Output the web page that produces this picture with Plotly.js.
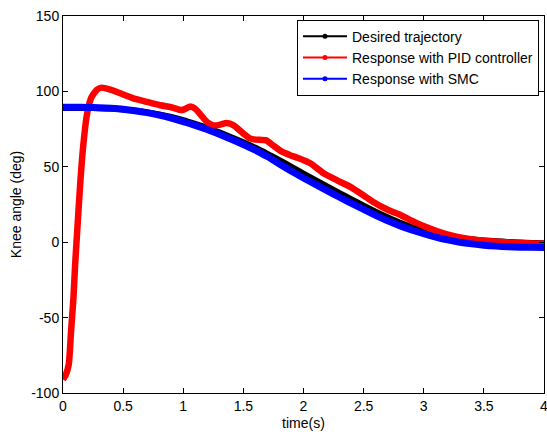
<!DOCTYPE html>
<html>
<head>
<meta charset="utf-8">
<script src="https://cdn.plot.ly/plotly-3.0.1.min.js"></script>
<style>html,body{margin:0;padding:0;background:#fff;}#chart{width:547px;height:434px;}</style>
</head>
<body>
<div id="chart"></div>
<script>
// Desired trajectory
const tDesired = [0,0.1,0.2,0.3,0.4,0.5,0.6,0.7,0.8,0.9,1.0,1.1,1.2,1.3,1.4,1.5,1.6,1.7,1.8,1.9,2.0,2.1,2.2,2.3,2.4,2.5,2.6,2.7,2.8,2.9,3.0,3.1,3.2,3.3,3.4,3.5,3.6,3.7,3.8,3.9,4.0];
const yDesired = [89,89,89,88.9,88.6,88,87.2,86.1,84.7,83,81,78.5,75.8,72.8,69.6,66.2,62.6,58.6,54.4,50,45.5,41.1,36.8,32.6,28.4,24.3,20.3,16.5,13,10,7.6,5.6,4,2.8,1.9,1.2,0.7,0.2,-0.2,-0.5,-0.7];
// Response with SMC
const tSMC = tDesired;
const ySMC = [89.5,89.5,89.4,89.2,88.8,88.2,87.2,85.9,84.3,82.3,80,77.5,74.7,71.6,68.3,64.8,61,56.8,51.8,47,42.6,38.3,34,29.8,25.7,21.7,17.8,14.2,11,8.1,5.6,3.4,1.5,0,-1.1,-2,-2.6,-3,-3.3,-3.4,-3.5];
// Response with PID controller
const tPID = [0,0.02,0.048,0.067,0.087,0.1,0.117,0.145,0.167,0.2,0.236,0.28,0.32,0.4,0.5,0.6,0.7,0.8,0.9,0.97,1.0,1.06,1.1,1.15,1.2,1.25,1.3,1.36,1.42,1.5,1.55,1.6,1.69,1.75,1.82,1.89,1.95,2.06,2.17,2.28,2.39,2.5,2.58,2.7,2.81,2.92,3.03,3.12,3.22,3.35,3.5,3.64,3.8,4.0];
const yPID = [-91,-88.5,-81,-59,-37,-16,6,41,63,85,96,101,102.5,101,98,95,93,91,89.5,87.8,87.8,90,88.5,84,79.5,77.5,77.8,79,77.5,72,69,68,67.5,64,60,57.7,56,52.2,45.5,41,36.7,31,26.7,21.5,17.9,13.5,9.7,7,4.6,2.5,1,0.2,-0.6,-1];

const seriesNames = ['Desired trajectory','Response with PID controller','Response with SMC'];
const colors = ['#000000','#ff0000','#0000ff'];

const traces = [
  {x:tDesired, y:yDesired, mode:'lines', line:{color:colors[0], width:6, shape:'spline', smoothing:0.6}, showlegend:false, hoverinfo:'skip'},
  {x:tPID, y:yPID, mode:'lines', line:{color:colors[1], width:6.5, shape:'spline', smoothing:0.5}, showlegend:false, hoverinfo:'skip'},
  {x:tSMC, y:ySMC, mode:'lines', line:{color:colors[2], width:7, shape:'spline', smoothing:0.6}, showlegend:false, hoverinfo:'skip'}
];
seriesNames.forEach((n,i)=>{
  traces.push({x:[null], y:[null], mode:'lines+markers', name:n, line:{color:colors[i], width:2}, marker:{color:colors[i], size:5}, showlegend:true});
});

const font = {family:'Arial, "Liberation Sans", sans-serif', size:14, color:'#000'};
const layout = {
  width:547, height:434,
  margin:{l:63, r:3, t:16, b:41},
  paper_bgcolor:'#fff', plot_bgcolor:'#fff',
  font:font,
  showlegend:true,
  xaxis:{range:[0,4], tickvals:[0,0.5,1,1.5,2,2.5,3,3.5,4], ticktext:['0','0.5','1','1.5','2','2.5','3','3.5','4'],
    ticks:'inside', ticklen:5, tickcolor:'#000', showline:true, linecolor:'#000', linewidth:1, mirror:'ticks',
    ticklabeloverflow:'allow',
    showgrid:false, zeroline:false, title:{text:'time(s)', font:font, standoff:5}, tickfont:font},
  yaxis:{range:[-100,150], tickvals:[-100,-50,0,50,100,150], ticktext:['-100','-50','0','50','100','150'],
    ticks:'inside', ticklen:5, tickcolor:'#000', showline:true, linecolor:'#000', linewidth:1, mirror:'ticks',
    ticklabeloverflow:'allow',
    showgrid:false, zeroline:false, title:{text:'Knee angle (deg)', font:font, standoff:6}, tickfont:font},
  legend:{x:0.9896, y:0.99, xanchor:'right', yanchor:'top', bgcolor:'#fff', bordercolor:'#000', borderwidth:1,
    font:font, itemwidth:44, tracegroupgap:0}
};
Plotly.newPlot('chart', traces, layout, {displayModeBar:false, staticPlot:true});
</script>
</body>
</html>
